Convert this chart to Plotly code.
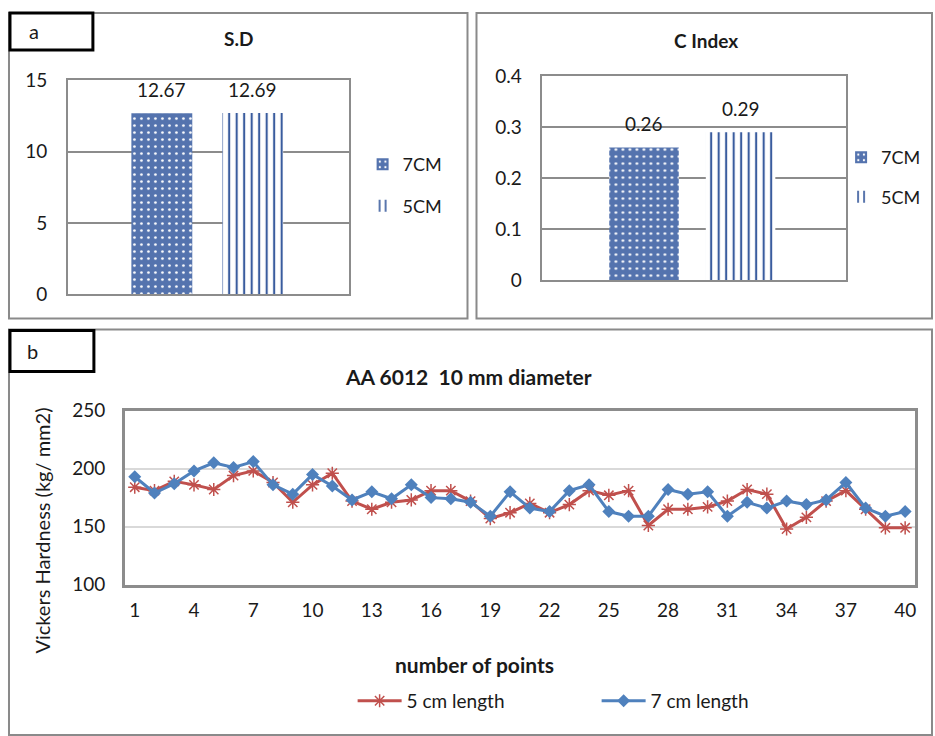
import plotly.graph_objects as go

W, H = 935, 736
# The photograph shows page row y at image row OFF + K*y; positions below are given in
# picture pixels and converted back to page/paper coordinates.
OFF, K = 12.0, 0.968
H_FIG = 748

# ---------------- data ----------------
bar_categories = ["7CM", "5CM"]
sd_values = [12.67, 12.69]
cindex_values = [0.26, 0.29]

points = list(range(1, 41))
hard_5cm = [184, 181, 189, 186, 182, 194, 198, 188, 171, 186,
            196, 172, 165, 171, 173, 181, 181, 172, 157, 162,
            170, 162, 169, 181, 177, 181, 151, 165, 165, 167,
            172, 182, 178, 148, 158, 172, 181, 165, 149, 149]
hard_7cm = [193, 179, 187, 198, 205, 201, 206, 186, 178, 195,
            185, 173, 180, 174, 186, 175, 174, 171, 159, 180,
            166, 163, 181, 186, 163, 159, 159, 182, 178, 180,
            159, 171, 166, 172, 169, 173, 188, 166, 159, 163]
x_tickvals = [1, 4, 7, 10, 13, 16, 19, 22, 25, 28, 31, 34, 37, 40]

FONT = "Lato"
TXT = "#1a1a1a"
RED = "#C0504D"
BLUE = "#4F81BD"
BARBLUE = "#5473AE"
FRAME = "#8C8C8C"


def px(x):
    return x / W


def py(y):
    page_y = max(y - OFF, 1.0) / K
    return 1 - page_y / H_FIG


fig = go.Figure()

pat_7 = dict(shape=".", bgcolor=BARBLUE, fgcolor="white", size=7, solidity=0.12, fillmode="replace")
pat_5 = dict(shape="|", bgcolor="white", fgcolor="#3A5C9E", size=7.5, solidity=0.28, fillmode="replace")

# S.D bars
fig.add_trace(go.Bar(x=[bar_categories[0]], y=[sd_values[0]], name="7CM", width=0.67,
                     marker=dict(color=BARBLUE, pattern=pat_7, line=dict(width=0)),
                     xaxis="x", yaxis="y", legend="legend", legendgroup="a1"))
fig.add_trace(go.Bar(x=[bar_categories[1]], y=[sd_values[1]], name="5CM", width=0.67,
                     marker=dict(color="white", pattern=pat_5, line=dict(width=0)),
                     xaxis="x", yaxis="y", legend="legend", legendgroup="a2"))
# C Index bars
fig.add_trace(go.Bar(x=[bar_categories[0]], y=[cindex_values[0]], name="7CM", width=0.72,
                     marker=dict(color=BARBLUE, pattern=pat_7, line=dict(width=0)),
                     xaxis="x2", yaxis="y2", legend="legend2", legendgroup="b1"))
fig.add_trace(go.Bar(x=[bar_categories[1]], y=[cindex_values[1]], name="5CM", width=0.72,
                     marker=dict(color="white", pattern=pat_5, line=dict(width=0)),
                     xaxis="x2", yaxis="y2", legend="legend2", legendgroup="b2"))

# Line chart
fig.add_trace(go.Scatter(x=points, y=hard_5cm, name="5 cm length", mode="lines+markers",
                         line=dict(color=RED, width=3),
                         marker=dict(symbol="asterisk-open", size=11, color=RED,
                                     line=dict(color=RED, width=1.5)),
                         xaxis="x3", yaxis="y3", legend="legend3"))
fig.add_trace(go.Scatter(x=points, y=hard_7cm, name="7 cm length", mode="lines+markers",
                         line=dict(color=BLUE, width=3),
                         marker=dict(symbol="diamond", size=10, color=BLUE),
                         xaxis="x3", yaxis="y3", legend="legend3"))

tickfont = dict(family=FONT, size=19, color=TXT)


def note(x, y, text, size=19, **kw):
    d = dict(x=px(x), y=py(y), xref="paper", yref="paper", text=text, showarrow=False,
             xanchor="center", yanchor="middle", font=dict(family=FONT, size=size, color=TXT))
    d.update(kw)
    return d


annotations = []
for cat, v in zip(bar_categories, sd_values):
    annotations.append(dict(x=cat, y=v, xref="x", yref="y", text=f"{v:.2f}", showarrow=False,
                            yanchor="middle", yshift=24, font=dict(family=FONT, size=19, color=TXT)))
for cat, v in zip(bar_categories, cindex_values):
    annotations.append(dict(x=cat, y=v, xref="x2", yref="y2", text=f"{v:.2f}", showarrow=False,
                            yanchor="middle", yshift=24, font=dict(family=FONT, size=19, color=TXT)))

annotations += [
    note(239, 38, "<b>S.D</b>", 19),
    note(707, 40, "<b>C Index</b>", 19),
    note(34, 31, "a", 20),
    note(33, 351, "b", 20),
    note(469, 376, "<b>AA 6012  10 mm diameter</b>", 21),
    note(475, 664, "<b>number of points</b>", 21),
    note(42, 530, "Vickers Hardness (kg/ mm2)", 20, textangle=-90),
]

shapes = [
    dict(type="rect", xref="paper", yref="paper", x0=px(9), x1=px(468), y0=py(318), y1=py(9),
         line=dict(color="#8a8a8a", width=2)),
    dict(type="rect", xref="paper", yref="paper", x0=px(477), x1=px(933), y0=py(318), y1=py(9),
         line=dict(color="#8a8a8a", width=2)),
    dict(type="rect", xref="paper", yref="paper", x0=px(9), x1=px(933), y0=py(734), y1=py(329),
         line=dict(color="#8a8a8a", width=2)),
    dict(type="rect", xref="paper", yref="paper", x0=px(10), x1=px(93), y0=py(50), y1=py(10),
         line=dict(color="black", width=3)),
    dict(type="rect", xref="paper", yref="paper", x0=px(10), x1=px(94), y0=py(371), y1=py(330),
         line=dict(color="black", width=3)),
]

bar_x = dict(type="category", categoryorder="array", categoryarray=bar_categories,
             showticklabels=False, ticks="", showgrid=False, zeroline=False,
             showline=True, mirror=True, linecolor=FRAME, linewidth=1.5)

fig.update_layout(
    width=W, height=H_FIG, autosize=False,
    margin=dict(l=0, r=0, t=0, b=0),
    paper_bgcolor="white", plot_bgcolor="white",
    barmode="overlay",
    font=dict(family=FONT, color=TXT),
    xaxis=dict(domain=[px(68), px(349)], anchor="y", range=[-1.033, 2.055], **bar_x),
    yaxis=dict(domain=[py(294), py(80)], anchor="x", range=[0, 15], dtick=5, tickfont=tickfont,
               showgrid=True, gridcolor=FRAME, gridwidth=1.5, zeroline=False,
               showline=True, mirror=True, linecolor=FRAME, linewidth=1.5,
               ticks="", ticklabelstandoff=15),
    xaxis2=dict(domain=[px(543), px(847)], anchor="y2", range=[-1.052, 2.093], **bar_x),
    yaxis2=dict(domain=[py(280), py(76)], anchor="x2", range=[0, 0.4], dtick=0.1, tickfont=tickfont,
                showgrid=True, gridcolor=FRAME, gridwidth=1.5, zeroline=False,
                showline=True, mirror=True, linecolor=FRAME, linewidth=1.5,
                ticks="", ticklabelstandoff=15, tickformat="~g"),
    xaxis3=dict(domain=[px(125), px(916)], anchor="y3", range=[0.5, 40.5],
                tickmode="array", tickvals=x_tickvals, tickfont=tickfont,
                showgrid=False, zeroline=False, showline=True, mirror=True,
                linecolor=FRAME, linewidth=2.5, ticks="", ticklabelstandoff=7),
    yaxis3=dict(domain=[py(584), py(410)], anchor="x3", range=[100, 250], dtick=50, tickfont=tickfont,
                showgrid=True, gridcolor="#D9D9D9", gridwidth=1.5, zeroline=False,
                showline=True, mirror=True, linecolor=FRAME, linewidth=2.5,
                ticks="", ticklabelstandoff=13),
    legend=dict(x=px(363), y=py(146), xanchor="left", yanchor="top", orientation="v",
                font=dict(family=FONT, size=18, color=TXT), tracegroupgap=15,
                itemwidth=30, bgcolor="rgba(0,0,0,0)"),
    legend2=dict(x=px(842), y=py(139), xanchor="left", yanchor="top", orientation="v",
                 font=dict(family=FONT, size=18, color=TXT), tracegroupgap=13,
                 itemwidth=30, bgcolor="rgba(0,0,0,0)"),
    legend3=dict(x=px(353), y=py(700), xanchor="left", yanchor="middle", orientation="h",
                 font=dict(family=FONT, size=19, color=TXT), itemwidth=44,
                 entrywidth=185, entrywidthmode="pixels", bgcolor="rgba(0,0,0,0)"),
    annotations=annotations,
    shapes=shapes,
    showlegend=True,
)

fig.write_html(
    "out.html",
    config={"displayModeBar": False},
    post_script=("document.body.style.margin='0px';document.body.style.padding='0px';"
                 "document.body.style.overflow='hidden';"
                 "document.documentElement.style.overflow='hidden';"),
)
